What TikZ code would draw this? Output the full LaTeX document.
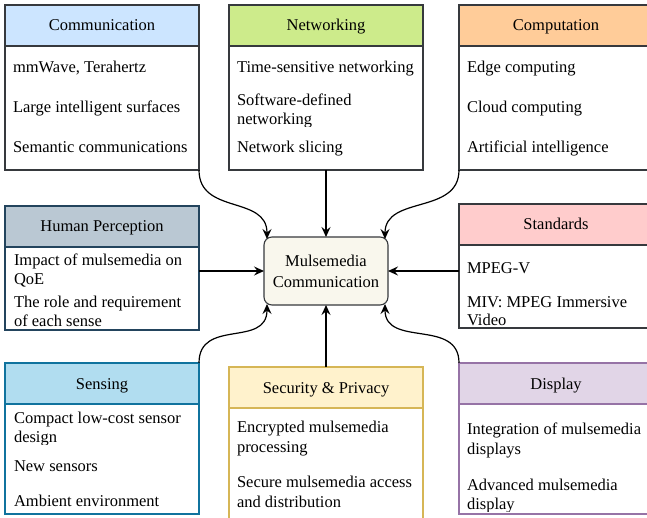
\documentclass[tikz,border=0pt]{standalone}
\usepackage{fontspec}
\setmainfont{Liberation Serif}
\usetikzlibrary{arrows.meta,calc}
\definecolor{fComm}{HTML}{CCE5FF}
\definecolor{fNet}{HTML}{CDEB8B}
\definecolor{fComp}{HTML}{FFCC99}
\definecolor{fHum}{HTML}{BAC8D3}
\definecolor{fStd}{HTML}{FFCCCC}
\definecolor{fSens}{HTML}{B1DDF0}
\definecolor{fSec}{HTML}{FFF2CC}
\definecolor{fDisp}{HTML}{E1D5E7}
\definecolor{fCen}{HTML}{F9F7ED}
\definecolor{sGray}{HTML}{36393D}
\definecolor{sHum}{HTML}{23445D}
\definecolor{sSens}{HTML}{10739E}
\definecolor{sSec}{HTML}{D6B656}
\definecolor{sDisp}{HTML}{9673A6}
\newcommand\fsz{\fontsize{16.5}{19}\selectfont}
\tikzset{
  hdrbox/.style={line width=1.1pt, minimum width=194pt, minimum height=41pt,
    anchor=north west, inner sep=0pt, outer sep=0pt, text height=11pt, text depth=0pt, font=\fsz},
  bodybox/.style={line width=1.1pt, fill=white, minimum width=194pt,
    anchor=north west, inner sep=0pt, outer sep=0pt},
  itemtxt/.style={anchor=base west, inner sep=0pt, outer sep=0pt, font=\fsz},
  hub/.style={draw=sGray, fill=fCen, line width=1.1pt, rounded corners=8pt,
    minimum width=124pt, minimum height=68pt, inner sep=0pt, outer sep=0pt,
    align=center, font=\fsz},
  conn/.style={line width=1.2pt, -{Stealth[length=10pt,width=9pt,inset=3.5pt]}},
}
% name, x, y, body height, fill, stroke, title
\newcommand\panel[7]{%
  \node[bodybox, draw=#6, minimum height=#4pt] (#1B) at ($(#2,#3)+(0,41)$) {};
  \node[hdrbox, fill=#5, draw=#6] (#1H) at (#2,#3) {#7};
}
\newcommand\itm[4]{\node[itemtxt] (#1) at (#2,#3) {#4};}
\begin{document}
\begin{tikzpicture}[x=1pt,y=-1pt]
\useasboundingbox (0,0) rectangle (647,518);
\clip (0,0) rectangle (647,518);

\panel{comm}{5}{5}{124}{fComm}{sGray}{Communication}
\panel{net}{229}{5}{124}{fNet}{sGray}{Networking}
\panel{comp}{459}{5}{124}{fComp}{sGray}{Computation}
\panel{hum}{5}{206}{83}{fHum}{sHum}{Human Perception}
\panel{std}{459}{204}{83}{fStd}{sGray}{Standards}
\panel{sens}{5}{363}{110}{fSens}{sSens}{Sensing}
\panel{sec}{229}{367}{125}{fSec}{sSec}{Security \& Privacy}
\panel{disp}{459}{363}{110}{fDisp}{sDisp}{Display}

\node[hub] (cen) at (326,271) {Mulsemedia\\[2pt]Communication};

% Communication items
\itm{c1}{13}{73}{mmWave, Terahertz}
\itm{c2}{13}{113}{Large intelligent surfaces}
\itm{c3}{13}{153}{Semantic communications}
% Networking items
\itm{n1}{237}{73}{Time-sensitive networking}
\itm{n2}{237}{106}{Software-defined}
\begin{scope}
\clip (229,90) rectangle (423,126.5);
\itm{n2b}{237}{124.5}{networking}
\end{scope}
\itm{n3}{237}{153}{Network slicing}
% Computation items
\itm{p1}{467}{73}{Edge computing}
\itm{p2}{467}{113}{Cloud computing}
\itm{p3}{467}{153}{Artificial intelligence}
% Human perception items
\itm{h1}{14}{266}{Impact of mulsemedia on}
\itm{h2}{14}{285}{QoE}
\itm{h3}{14}{307}{The role and requirement}
\itm{h4}{14}{326}{of each sense}
% Standards items
\itm{s1}{467}{273}{MPEG-V}
\itm{s2}{467}{307}{MIV: MPEG Immersive}
\itm{s3}{467}{325}{Video}
% Sensing items
\itm{e1}{14}{423}{Compact low-cost sensor}
\begin{scope}
\clip (5,425) rectangle (199,444.5);
\itm{e2}{14}{442}{design}
\end{scope}
\itm{e3}{14}{471}{New sensors}
\itm{e4}{14}{506}{Ambient environment}
% Security items
\itm{y1}{237}{432}{Encrypted mulsemedia}
\itm{y2}{237}{452}{processing}
\itm{y3}{237}{487}{Secure mulsemedia access}
\itm{y4}{237}{507}{and distribution}
% Display items
\itm{d1}{467}{434}{Integration of mulsemedia}
\itm{d2}{467}{454}{displays}
\itm{d3}{467}{490}{Advanced mulsemedia}
\begin{scope}
\clip (459,492) rectangle (653,511.5);
\itm{d4}{467}{509}{display}
\end{scope}

% connectors
\draw[conn] (commB.south east) .. controls ($(commB.south east)+(0,45)$) and ($(cen.north west)+(3,-42)$) .. ($(cen.north west)+(3,2)$);
\draw[conn] (netB.south) -- (cen.north);
\draw[conn] (compB.south west) .. controls ($(compB.south west)+(0,45)$) and ($(cen.north east)+(-3,-42)$) .. ($(cen.north east)+(-3,2)$);
\draw[conn] (cen.west -| humB.east) -- (cen.west);
\draw[conn] (cen.east -| stdB.west) -- (cen.east);
\draw[conn] (sensH.north east) .. controls ($(sensH.north east)+(0,-45)$) and ($(cen.south west)+(3,43)$) .. ($(cen.south west)+(3,-1)$);
\draw[conn] (secH.north) -- (cen.south);
\draw[conn] (dispH.north west) .. controls ($(dispH.north west)+(0,-45)$) and ($(cen.south east)+(-3,43)$) .. ($(cen.south east)+(-3,-1)$);
\end{tikzpicture}
\end{document}
